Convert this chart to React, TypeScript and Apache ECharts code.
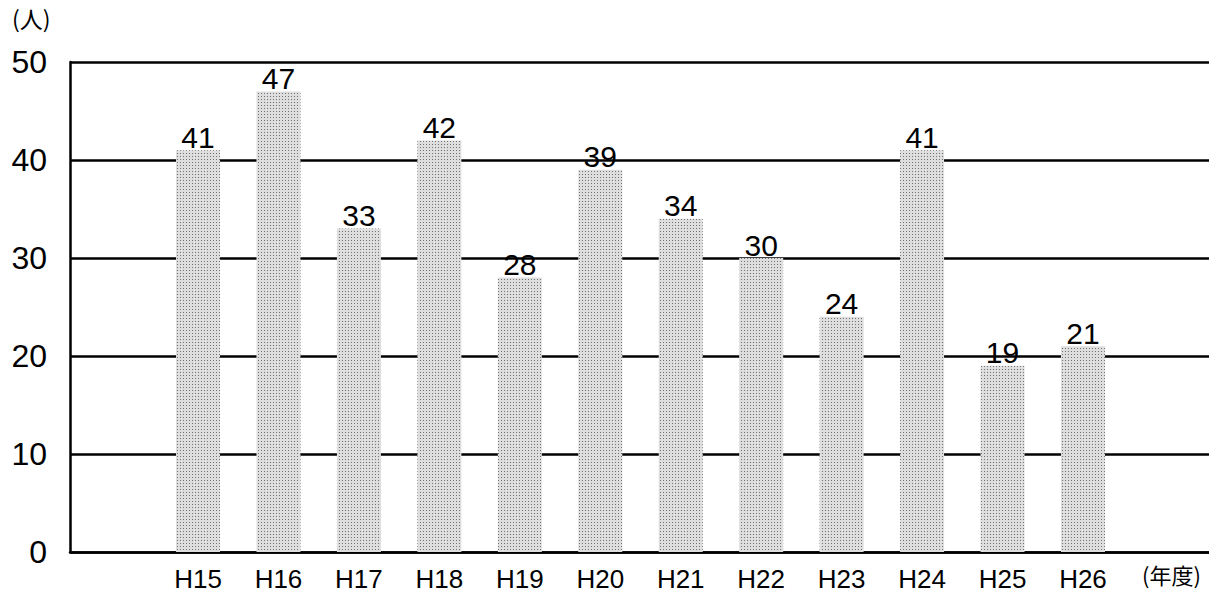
import React, { useEffect, useRef } from "react";
import * as echarts from "echarts";

const categories = ["H15", "H16", "H17", "H18", "H19", "H20", "H21", "H22", "H23", "H24", "H25", "H26"];
const values = [41, 47, 33, 42, 28, 39, 34, 30, 24, 41, 19, 21];
const yUnit = "(人)";
const xUnit = "(年度)";

const SANS = "'Liberation Sans', Arial, sans-serif";
const CJK = "'Noto Sans CJK JP', sans-serif";

export default function App() {
  const ref = useRef<HTMLDivElement>(null);
  useEffect(() => {
    document.body.style.margin = "0";
    const chart = echarts.init(ref.current!, null, { renderer: "svg" });
    const top = 62;
    const bottom = 42;
    chart.setOption({
      animation: false,
      backgroundColor: "#ffffff",
      grid: [
        { left: 70, right: 0, top, bottom },
        { left: 157.8, width: 965.4, top, bottom },
      ],
      xAxis: [
        {
          gridIndex: 0,
          type: "value",
          min: 0,
          max: 1,
          axisLine: { show: true, lineStyle: { color: "#000", width: 2.5 } },
          axisTick: { show: false },
          axisLabel: { show: false },
          splitLine: { show: false },
        },
        {
          gridIndex: 1,
          type: "category",
          data: categories,
          axisLine: { show: false },
          axisTick: { show: false },
          axisLabel: {
            color: "#000",
            fontSize: 26,
            fontFamily: SANS,
            margin: 14,
          },
          splitLine: { show: false },
        },
      ],
      yAxis: [
        {
          gridIndex: 0,
          type: "value",
          min: 0,
          max: 50,
          interval: 10,
          axisLine: { show: true, lineStyle: { color: "#000", width: 2.5 } },
          axisTick: { show: false },
          axisLabel: {
            color: "#000",
            fontSize: 32,
            fontFamily: SANS,
            margin: 23,
          },
          splitLine: { show: true, lineStyle: { color: "#000", width: 2.5 } },
        },
        {
          gridIndex: 1,
          type: "value",
          min: 0,
          max: 50,
          interval: 10,
          show: false,
        },
      ],
      series: [
        {
          type: "bar",
          xAxisIndex: 1,
          yAxisIndex: 1,
          data: values,
          barWidth: 44,
          itemStyle: {
            color: "#dedede",
            decal: {
              symbol: "rect",
              symbolSize: 1,
              color: "rgba(40,40,40,0.6)",
              dashArrayX: [1, 2],
              dashArrayY: [1, 2],
              rotation: 0,
            },
          },
          label: {
            show: true,
            position: "top",
            distance: 0,
            offset: [0, 2],
            color: "#000",
            fontSize: 30,
            fontFamily: SANS,
          },
        },
      ],
      graphic: [
        {
          type: "text",
          left: 12,
          top: 6,
          style: { text: yUnit, fontSize: 23, fontFamily: CJK, fill: "#000" },
        },
        {
          type: "text",
          left: 1142,
          top: 563,
          style: { text: xUnit, fontSize: 22, fontFamily: CJK, fill: "#000" },
        },
      ],
    });
    return () => chart.dispose();
  }, []);
  return <div ref={ref} style={{ width: 1209, height: 594 }} />;
}
